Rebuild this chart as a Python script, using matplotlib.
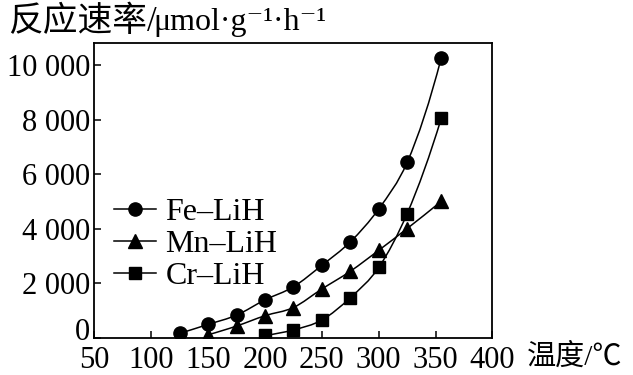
import numpy as np
import matplotlib
matplotlib.use('Agg')
import matplotlib.pyplot as plt
import matplotlib.transforms as mtransforms
from matplotlib.path import Path
from matplotlib.patches import PathPatch
from matplotlib.lines import Line2D

plt.rcParams['font.family'] = ['Liberation Serif', 'Noto Sans CJK SC', 'DejaVu Serif']

# data
fe_t = [125, 150, 175, 200, 225, 250, 275, 300, 325, 355]
fe_rate = [150, 480, 820, 1380, 1860, 2650, 3510, 4720, 6430, 10270]

mn_t = [150, 175, 200, 225, 250, 275, 300, 325, 355]
mn_rate = [100, 420, 800, 1100, 1780, 2430, 3200, 4000, 5000]

cr_t = [200, 225, 250, 275, 300, 325, 355]
cr_rate = [80, 280, 640, 1460, 2570, 4550, 8050]

x_ticks = [50, 100, 150, 200, 250, 300, 350, 400]
y_ticks = [0, 2000, 4000, 6000, 8000, 10000]
y_labels = ['0', '2 000', '4 000', '6 000', '8 000', '10 000']


def slopes(x, y):
    # parabola through neighbours gives the tangent at each point
    n = len(x)
    d = np.zeros(n)
    for i in range(n):
        j = min(max(i - 1, 0), n - 3)
        x0, x1, x2 = x[j:j + 3]
        y0, y1, y2 = y[j:j + 3]
        t = x[i]
        d[i] = (y0 * (2 * t - x1 - x2) / ((x0 - x1) * (x0 - x2))
                + y1 * (2 * t - x0 - x2) / ((x1 - x0) * (x1 - x2))
                + y2 * (2 * t - x0 - x1) / ((x2 - x0) * (x2 - x1)))
    return d


def curve(x, y):
    x = np.asarray(x, float)
    y = np.asarray(y, float)
    d = slopes(x, y)
    verts = [(x[0], y[0])]
    codes = [Path.MOVETO]
    for i in range(len(x) - 1):
        h = x[i + 1] - x[i]
        verts += [(x[i] + h / 3, y[i] + d[i] * h / 3),
                  (x[i + 1] - h / 3, y[i + 1] - d[i + 1] * h / 3),
                  (x[i + 1], y[i + 1])]
        codes += [Path.CURVE4] * 3
    return Path(verts, codes)


fig = plt.figure(figsize=(6.33, 3.75), dpi=100)
ax = fig.add_axes([0.149, 0.1, 0.629, 0.786])

series = [(fe_t, fe_rate, 'o', 9.5, 'Fe–LiH'),
          (mn_t, mn_rate, '^', 10.5, 'Mn–LiH'),
          (cr_t, cr_rate, 's', 9.0, 'Cr–LiH')]

for t, r, m, ms, lab in series:
    ax.add_patch(PathPatch(curve(t, r), facecolor='none', edgecolor='black', lw=1.1))
    ax.plot(t, r, linestyle='None', marker=m, color='black', markersize=ms)

handles = [Line2D([], [], color='black', lw=1.1, marker=m, markersize=ms) for _, _, m, ms, _ in series]
ax.legend(handles, [s[4] for s in series], loc='upper left', bbox_to_anchor=(0.05, 0.475),
          frameon=False, fontsize=23, handlelength=1.3, handletextpad=0.3,
          labelspacing=0.08, borderpad=0, borderaxespad=0)

ax.set_xlim(50, 400)
ax.set_ylim(0, 10820)
ax.set_xticks(x_ticks)
ax.set_yticks(y_ticks)
ax.set_yticklabels(y_labels)
ax.tick_params(direction='in', length=5, width=1.1, top=False, right=False, labelsize=22)
ax.tick_params(axis='x', pad=6)
ax.tick_params(axis='y', pad=3)
for sp in ax.spines.values():
    sp.set_linewidth(1.3)

# the 0 on the y axis sits a little above the axis line
zero = ax.get_yticklabels()[0]
zero.set_transform(zero.get_transform() + mtransforms.ScaledTranslation(0, 8 / 100, fig.dpi_scale_trans))

fig.text(0.012, 0.94, '反应速率/', fontsize=25, va='center', ha='left')
fig.text(0.243, 0.94, 'μmol·g⁻¹·h⁻¹', fontsize=23, va='center', ha='left')
fig.text(0.833, 0.048, '温度/℃', fontsize=21, va='center', ha='left')

fig.savefig('out.png', dpi=100)
